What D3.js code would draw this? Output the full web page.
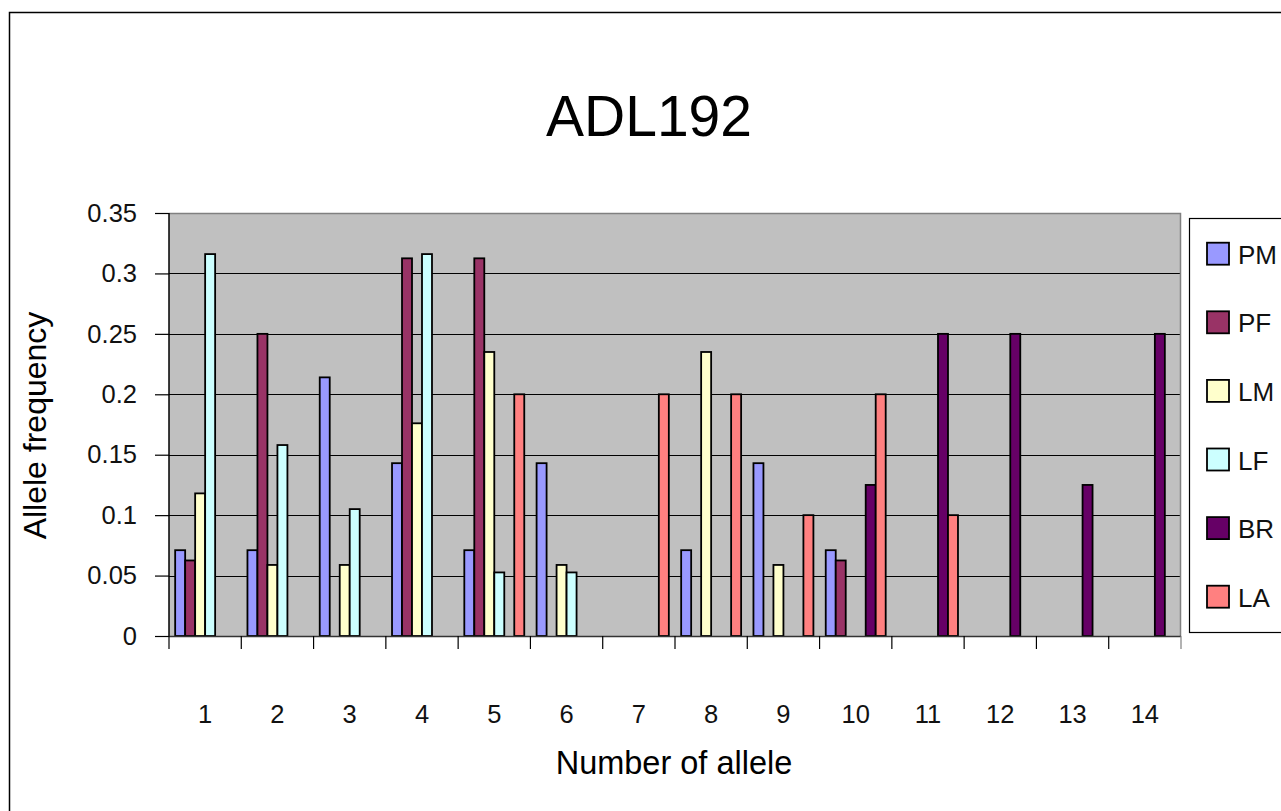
<!DOCTYPE html>
<html>
<head>
<meta charset="utf-8">
<script src="https://cdn.jsdelivr.net/npm/d3@7"></script>
<style>
  html, body { margin: 0; padding: 0; background: #fff; }
  svg { display: block; font-family: "Liberation Sans", Arial, sans-serif; }
</style>
</head>
<body>
<svg id="chart" width="1281" height="811"></svg>
<script>
// Allele numbers on the category axis
const categories = ["1","2","3","4","5","6","7","8","9","10","11","12","13","14"];
const seriesNames = ["PM", "PF", "LM", "LF", "BR", "LA"];
const seriesColors = ["#9999FF", "#993366", "#FFFFCC", "#CCFFFF", "#660066", "#FF8080"];

// Allele frequency per population, one value per allele (0 = absent)
const PM = [0.071, 0.071, 0.214, 0.143, 0.071, 0.143, 0,   0.071, 0.143, 0.071, 0,    0,    0,     0];
const PF = [0.0625, 0.25, 0,    0.3125, 0.3125, 0,   0,   0,     0,     0.0625, 0,   0,    0,     0];
const LM = [0.118, 0.0588, 0.0588, 0.176, 0.235, 0.0588, 0, 0.235, 0.0588, 0,   0,    0,    0,     0];
const LF = [0.316, 0.158, 0.105, 0.316, 0.0526, 0.0526, 0, 0,    0,     0,     0,    0,    0,     0];
const BR = [0,     0,     0,     0,     0,     0,     0,   0,     0,     0.125, 0.25, 0.25, 0.125, 0.25];
const LA = [0,     0,     0,     0,     0.2,   0,     0.2, 0.2,   0.1,   0.2,   0.1,  0,    0,     0];

const yTicks = [0, 0.05, 0.1, 0.15, 0.2, 0.25, 0.3, 0.35];
const yTickLabels = ["0", "0.05", "0.1", "0.15", "0.2", "0.25", "0.3", "0.35"];

const seriesValues = { PM, PF, LM, LF, BR, LA };

const svg = d3.select("#chart");
const plot = { left: 169, right: 1181, top: 213, bottom: 636 };

// Outer chart frame
svg.append("rect")
  .attr("x", 9.5).attr("y", 12.5)
  .attr("width", 1400).attr("height", 900)
  .attr("fill", "#fff").attr("stroke", "#000").attr("stroke-width", 1.5);

const x0 = d3.scaleBand().domain(categories).range([plot.left, plot.right]).padding(0);
const x1 = d3.scaleBand().domain(seriesNames).range([0, x0.bandwidth()])
  .paddingInner(0).paddingOuter(0.617);
const y = d3.scaleLinear().domain([0, 0.35]).range([plot.bottom, plot.top]);
const color = d3.scaleOrdinal().domain(seriesNames).range(seriesColors);

// Plot background
svg.append("rect")
  .attr("x", plot.left).attr("y", plot.top)
  .attr("width", plot.right - plot.left).attr("height", plot.bottom - plot.top)
  .attr("fill", "#C0C0C0");

// Horizontal gridlines
svg.append("g").selectAll("line")
  .data(yTicks.filter(t => t > 0 && t < 0.35))
  .join("line")
  .attr("x1", plot.left).attr("x2", plot.right)
  .attr("y1", d => Math.round(y(d)) + 0.5).attr("y2", d => Math.round(y(d)) + 0.5)
  .attr("stroke", "#000").attr("stroke-width", 1);

// Plot frame: grey top and right edges
svg.append("path")
  .attr("d", `M${plot.left},${plot.top + 0.5}H${plot.right - 0.5}V${plot.bottom}`)
  .attr("fill", "none").attr("stroke", "#808080").attr("stroke-width", 1.5);

// Bars
const rows = categories.map((c, i) => ({
  cat: c,
  vals: seriesNames.map(s => ({ key: s, value: seriesValues[s][i] }))
}));

svg.append("g").selectAll("g")
  .data(rows)
  .join("g")
  .attr("transform", d => `translate(${x0(d.cat)},0)`)
  .selectAll("rect")
  .data(d => d.vals.filter(v => v.value > 0))
  .join("rect")
  .attr("x", d => x1(d.key))
  .attr("y", d => y(d.value))
  .attr("width", x1.bandwidth())
  .attr("height", d => y(0) - y(d.value))
  .attr("fill", d => color(d.key))
  .attr("stroke", "#000").attr("stroke-width", 1.8);

// Y axis
const yAxis = d3.axisLeft(y)
  .tickValues(yTicks)
  .tickFormat((d, i) => yTickLabels[i])
  .tickSize(14).tickPadding(18);
const gy = svg.append("g").attr("transform", `translate(${plot.left},0)`).call(yAxis);
gy.select(".domain").attr("stroke", "#000").attr("stroke-width", 1.5)
  .attr("d", `M0,${plot.top}V${plot.bottom}`);
gy.selectAll(".tick line").attr("stroke", "#000").attr("stroke-width", 1.2);
gy.selectAll(".tick text")
  .attr("font-size", 25.5).attr("fill", "#111")
  .attr("font-family", "Liberation Sans, Arial, sans-serif");

// X axis: ticks on the group boundaries, labels centred in each group
const boundaries = categories.map(c => x0(c)).concat([plot.right]);
const gx = svg.append("g");
gx.append("line")
  .attr("x1", plot.left).attr("x2", plot.right)
  .attr("y1", plot.bottom + 0.5).attr("y2", plot.bottom + 0.5)
  .attr("stroke", "#333").attr("stroke-width", 1.5);
gx.selectAll("line.tk")
  .data(boundaries)
  .join("line").attr("class", "tk")
  .attr("x1", d => d).attr("x2", d => d)
  .attr("y1", plot.bottom).attr("y2", plot.bottom + 13)
  .attr("stroke", (d, i) => i === boundaries.length - 1 ? "#808080" : "#000")
  .attr("stroke-width", 1.2);
gx.selectAll("text")
  .data(categories)
  .join("text")
  .attr("x", d => x0(d) + x0.bandwidth() / 2)
  .attr("y", 723)
  .attr("text-anchor", "middle")
  .attr("font-size", 25.5).attr("fill", "#111")
  .text(d => d);

// Titles
svg.append("text")
  .attr("x", 649).attr("y", 136)
  .attr("text-anchor", "middle")
  .attr("font-size", 57)
  .text("ADL192");

svg.append("text")
  .attr("x", 674).attr("y", 774)
  .attr("text-anchor", "middle")
  .attr("font-size", 32.5)
  .text("Number of allele");

svg.append("text")
  .attr("transform", `translate(46,${(plot.top + plot.bottom) / 2 + 1}) rotate(-90)`)
  .attr("text-anchor", "middle")
  .attr("font-size", 32)
  .text("Allele frequency");

// Legend
const legend = svg.append("g");
legend.append("rect")
  .attr("x", 1189.5).attr("y", 218.5)
  .attr("width", 200).attr("height", 414)
  .attr("fill", "#fff").attr("stroke", "#000").attr("stroke-width", 1.2);

const items = legend.selectAll("g.item")
  .data(seriesNames)
  .join("g").attr("class", "item")
  .attr("transform", (d, i) => `translate(0,${253.7 + i * 68.6})`);
items.append("rect")
  .attr("x", 1207).attr("y", -11)
  .attr("width", 22).attr("height", 22)
  .attr("fill", d => color(d))
  .attr("stroke", "#000").attr("stroke-width", 1.8);
items.append("text")
  .attr("x", 1238).attr("y", 10)
  .attr("font-size", 26).attr("fill", "#111")
  .text(d => d);
</script>
</body>
</html>
